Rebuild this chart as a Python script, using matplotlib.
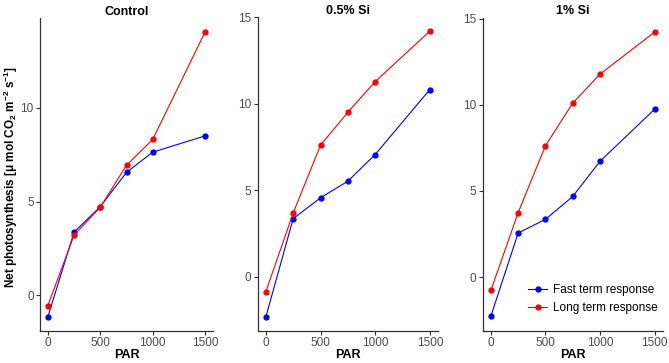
import matplotlib
matplotlib.use("Agg")
import matplotlib.pyplot as plt

plt.rcParams['font.family'] = ['Liberation Sans', 'DejaVu Sans']
plt.rcParams['mathtext.fontset'] = 'custom'
plt.rcParams['mathtext.rm'] = 'Liberation Sans'
plt.rcParams['mathtext.bf'] = 'Liberation Sans:bold'
plt.rcParams['mathtext.default'] = 'bf'

# data
par = [0, 250, 500, 750, 1000, 1500]
panels = ["Control", "0.5% Si", "1% Si"]
fast = [
    [-1.15, 3.37, 4.73, 6.56, 7.64, 8.51],
    [-2.31, 3.36, 4.56, 5.52, 7.06, 10.81],
    [-2.27, 2.56, 3.35, 4.68, 6.72, 9.74],
]
long_ = [
    [-0.55, 3.21, 4.70, 6.94, 8.32, 14.06],
    [-0.85, 3.69, 7.60, 9.50, 11.27, 14.18],
    [-0.77, 3.74, 7.62, 10.10, 11.78, 14.22],
]
ylims = [(-1.91, 14.82), (-3.13, 15.03), (-3.13, 15.07)]
yticks = [[0, 5, 10], [0, 5, 10, 15], [0, 5, 10, 15]]

W, H = 669, 363
fig = plt.figure(figsize=(W / 100, H / 100), dpi=100)
boxes = [(40, 213, 17.7), (257.7, 438, 16.5), (482.7, 662.7, 17.5)]
axes = []
for (l, r, t) in boxes:
    b = 331
    axes.append(fig.add_axes([l / W, (H - b) / H, (r - l) / W, (b - t) / H]))

for i, ax in enumerate(axes):
    ax.plot(par, fast[i], color='#0000FF', lw=0.8, marker='o', ms=3.5,
            label='Fast term response')
    ax.plot(par, long_[i], color='#FF0000', lw=0.8, marker='o', ms=3.5,
            label='Long term response')
    ax.set_xlim(-75, 1575)
    ax.set_ylim(*ylims[i])
    ax.set_xticks([0, 500, 1000, 1500])
    ax.set_yticks(yticks[i])
    for s in ['top', 'right']:
        ax.spines[s].set_visible(False)
    for s in ['left', 'bottom']:
        ax.spines[s].set_color('#333333')
        ax.spines[s].set_linewidth(0.9)
    ax.tick_params(labelsize=8.5, labelcolor='#4d4d4d', color='#333333',
                   length=3, width=0.8, pad=1.5)
    ax.set_title(panels[i], fontsize=9, fontweight='bold', pad=2)
    ax.set_xlabel('PAR', fontsize=9, fontweight='bold', labelpad=0)

axes[0].set_ylabel(r'Net photosynthesis [$\mu$ mol CO$_2$ m$^{-2}$ s$^{-1}$]',
                   fontsize=8.5, fontweight='bold')
axes[0].yaxis.set_label_coords(-0.115, 0.49)
axes[2].legend(loc='lower right', frameon=False, fontsize=8.5,
               handlelength=1.6, handletextpad=0.5,
               bbox_to_anchor=(1.03, 0.02))

fig.savefig('out.png', dpi=100)
